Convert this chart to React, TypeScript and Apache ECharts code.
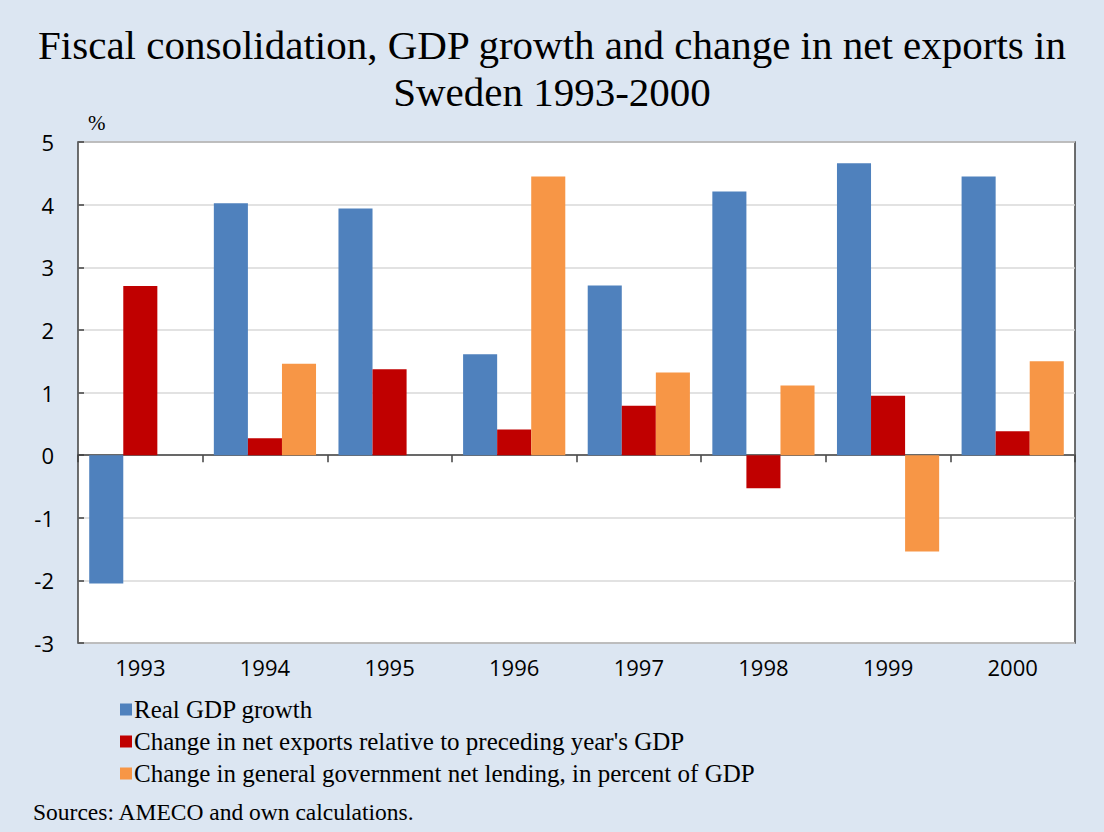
import React, { useEffect, useRef } from "react";
import * as echarts from "echarts";

const years = ["1993", "1994", "1995", "1996", "1997", "1998", "1999", "2000"];
const realGdpGrowth = [-2.05, 4.02, 3.94, 1.61, 2.71, 4.21, 4.66, 4.45];
const netExportsChange = [2.7, 0.27, 1.37, 0.41, 0.79, -0.53, 0.95, 0.38];
const netLendingChange = [null, 1.46, null, 4.45, 1.32, 1.11, -1.54, 1.5];
const seriesNames = [
  "Real GDP growth",
  "Change in net exports relative to preceding year's GDP",
  "Change in general government net lending, in percent of GDP",
];
const colors = ["#4F81BD", "#C00000", "#F79646"];

const SERIF = "'Liberation Serif', 'Times New Roman', serif";
const SANS = "'Open Sans', 'Liberation Sans', sans-serif";

export default function App() {
  const ref = useRef<HTMLDivElement>(null);
  useEffect(() => {
    if (!ref.current) return;
    const chart = echarts.init(ref.current, null, { renderer: "svg" });
    const data = [realGdpGrowth, netExportsChange, netLendingChange];
    chart.setOption({
      animation: false,
      backgroundColor: "#DCE6F2",
      title: {
        text: "Fiscal consolidation, GDP growth and change in net exports in\nSweden 1993-2000",
        left: "center",
        top: 16,
        textStyle: {
          fontFamily: SERIF,
          fontSize: 41,
          fontWeight: "normal",
          color: "#000",
          lineHeight: 47,
        },
      },
      legend: {
        orient: "vertical",
        left: 115,
        top: 692,
        itemWidth: 12,
        itemHeight: 12,
        itemGap: 7,
        icon: "rect",
        data: seriesNames,
        textStyle: { fontFamily: SERIF, fontSize: 25, color: "#000", padding: [0, 0, 0, -3] },
      },
      graphic: [
        {
          type: "text",
          left: 88,
          top: 112,
          style: { text: "%", font: `21px ${SERIF}`, fill: "#000" },
        },
        {
          type: "text",
          left: 33,
          top: 800,
          style: { text: "Sources: AMECO and own calculations.", font: `23.5px ${SERIF}`, fill: "#000" },
        },
      ],
      grid: {
        left: 78,
        right: 29,
        top: 142,
        bottom: 189,
        show: true,
        backgroundColor: "#FFFFFF",
        borderColor: "#404040",
        borderWidth: 1.5,
      },
      xAxis: [
        {
          type: "category",
          data: years,
          axisLine: { show: true, onZero: true, lineStyle: { color: "#404040", width: 1.5 } },
          axisTick: { show: true, length: 7, lineStyle: { color: "#404040", width: 1.5 } },
          axisLabel: { show: false },
          splitLine: { show: false },
        },
        {
          type: "category",
          data: years,
          position: "bottom",
          axisLine: { show: false, onZero: false },
          axisTick: { show: false },
          axisLabel: { show: true, fontFamily: SANS, fontSize: 22, color: "#000", margin: 13 },
        },
      ],
      yAxis: {
        type: "value",
        min: -3,
        max: 5,
        interval: 1,
        axisLine: { show: false },
        axisTick: { show: true, inside: true, length: 6, lineStyle: { color: "#404040", width: 1.5 } },
        axisLabel: { fontFamily: SANS, fontSize: 22, color: "#000", margin: 24 },
        splitLine: { show: true, lineStyle: { color: "#D9D9D9", width: 1.5 } },
      },
      series: seriesNames.map((name, i) => ({
        name,
        type: "bar",
        xAxisIndex: 0,
        data: data[i],
        barGap: "0%",
        barCategoryGap: "18%",
        itemStyle: { color: colors[i] },
      })),
    });
    return () => chart.dispose();
  }, []);
  return (
    <div
      ref={ref}
      style={{ position: "fixed", left: 0, top: 0, width: 1104, height: 832 }}
    />
  );
}
